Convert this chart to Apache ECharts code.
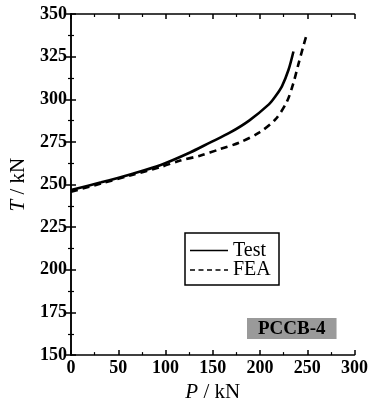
<!DOCTYPE html>
<html>
<head>
<meta charset="utf-8">
<script src="https://cdn.jsdelivr.net/npm/echarts@6/dist/echarts.min.js"></script>
<style>
  html, body { margin: 0; padding: 0; background: #fff; }
  #chart { width: 371px; height: 408px; }
</style>
</head>
<body>
<div id="chart"></div>
<script>
// Load P (kN) against T (kN) for specimen PCCB-4
const testP = [0, 32, 63.5, 95, 126, 147, 168, 188.5, 209.4, 216, 223.2, 230.2, 235.4];
const testT = [246.8, 251.3, 256.1, 261.5, 268.8, 274.6, 280.4, 287.5, 297, 301.5, 307.6, 317.3, 328];
const feaP = [0, 32, 63.5, 95, 115.6, 136.5, 157.3, 178.1, 199, 216.3, 228.4, 235.4, 240.6, 245.8, 249.3];
const feaT = [245.8, 250.6, 255.5, 260.3, 264.1, 266.9, 270.7, 274.6, 280.4, 288.2, 298.5, 309.6, 320.5, 331, 337.8];

const seriesNames = ['Test', 'FEA'];
const specimenLabel = 'PCCB-4';

const pairs = (xs, ys) => xs.map((x, i) => [x, ys[i]]);

const FONT = '"Liberation Serif", "Times New Roman", serif';
const DASH = [7, 5];
const axisLine = { show: true, lineStyle: { color: '#000', width: 1.5 } };
const axisTick = { show: true, inside: true, length: 5, lineStyle: { color: '#000', width: 1.5 } };
const minorTick = { show: true, splitNumber: 2, length: 3, lineStyle: { color: '#000', width: 1.2 } };
const tickLabel = { color: '#000', fontFamily: FONT, fontSize: 18, fontWeight: 'bold', margin: 4 };

// Boxed key with a solid and a dashed sample line
const key = { x: 185, y: 233, w: 94, h: 52, rowY: [250.5, 270], lineX: [190, 228], textX: 233 };
const keyGraphics = [{
  type: 'rect', shape: { x: key.x, y: key.y, width: key.w, height: key.h },
  style: { fill: '#fff', stroke: '#000', lineWidth: 1.5 }, z: 10
}];
seriesNames.forEach((name, i) => {
  keyGraphics.push({
    type: 'line', z: 11,
    shape: { x1: key.lineX[0], y1: key.rowY[i], x2: key.lineX[1], y2: key.rowY[i] },
    style: { stroke: '#000', lineWidth: 1.6, lineDash: i === 0 ? null : [5, 3.5] }
  });
  keyGraphics.push({
    type: 'text', z: 11, x: key.textX, y: key.rowY[i],
    style: { text: name, fill: '#000', font: '20px ' + FONT, textVerticalAlign: 'middle', verticalAlign: 'middle' }
  });
});

const chart = echarts.init(document.getElementById('chart'), null, { renderer: 'canvas' });
chart.setOption({
  animation: false,
  backgroundColor: '#fff',
  grid: { left: 69, right: 14, top: 14, bottom: 51 },
  xAxis: [{
    type: 'value', min: 0, max: 300, interval: 50,
    axisLine, axisTick, minorTick, splitLine: { show: false },
    axisLabel: tickLabel,
    name: '{i|P} / kN', nameLocation: 'middle', nameGap: 26,
    nameTextStyle: {
      color: '#000', fontFamily: FONT, fontSize: 21,
      rich: { i: { fontStyle: 'italic', fontFamily: FONT, fontSize: 21, color: '#000' } }
    }
  }, {
    type: 'value', position: 'top', min: 0, max: 300, interval: 50,
    axisLine, axisTick, minorTick, splitLine: { show: false }, axisLabel: { show: false }
  }],
  yAxis: [{
    type: 'value', min: 150, max: 350, interval: 25,
    axisLine, axisTick, minorTick, splitLine: { show: false },
    axisLabel: tickLabel,
    name: '{i|T} / kN', nameLocation: 'middle', nameGap: 42, nameRotate: 90,
    nameTextStyle: {
      color: '#000', fontFamily: FONT, fontSize: 21,
      rich: { i: { fontStyle: 'italic', fontFamily: FONT, fontSize: 21, color: '#000' } }
    }
  }, {
    type: 'value', position: 'right', min: 150, max: 350, interval: 25,
    axisLine, axisTick, minorTick, splitLine: { show: false }, axisLabel: { show: false }
  }],
  graphic: keyGraphics.concat([{
    type: 'text', left: 247, top: 318, z: 10,
    style: {
      text: specimenLabel, fill: '#000', font: 'bold 19px ' + FONT,
      backgroundColor: '#9a9a9a', padding: [1, 11, 0, 11], lineHeight: 20
    }
  }]),
  series: [{
    name: seriesNames[0], type: 'line', smooth: 0.3,
    symbol: 'none', showSymbol: false,
    lineStyle: { color: '#000', width: 2.6 },
    data: pairs(testP, testT)
  }, {
    name: seriesNames[1], type: 'line', smooth: 0.3,
    symbol: 'none', showSymbol: false,
    lineStyle: { color: '#000', width: 2.6, type: DASH },
    data: pairs(feaP, feaT)
  }]
});
</script>
</body>
</html>
